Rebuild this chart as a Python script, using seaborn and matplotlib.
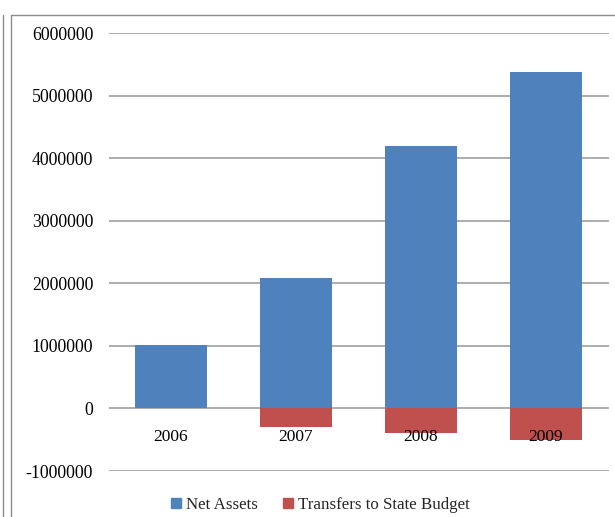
import matplotlib
matplotlib.use('Agg')
import matplotlib.pyplot as plt
import seaborn as sns
import pandas as pd
from matplotlib.lines import Line2D

# data
years = ['2006', '2007', '2008', '2009']
net_assets = [1010000, 2080000, 4190000, 5370000]
transfers = [0, -300000, -395000, -500000]
series_names = ['Net Assets', 'Transfers to State Budget']
colors = ['#4F81BD', '#C0504D']
yticks = [-1000000, 0, 1000000, 2000000, 3000000, 4000000, 5000000, 6000000]

df = pd.DataFrame({
    'Year': years * 2,
    'Value': net_assets + transfers,
    'Series': [series_names[0]] * 4 + [series_names[1]] * 4,
})

sns.set_theme(style='white')
plt.rcParams['font.family'] = ['Liberation Serif', 'DejaVu Serif']
plt.rcParams['axes.axisbelow'] = False

W, H = 615, 517
fig = plt.figure(figsize=(W / 100, H / 100), dpi=100)
ax = fig.add_axes([108.5 / W, (H - 471) / H, 500 / W, 438 / H])

for t in yticks:
    ax.axhline(t, color='#a6a6a6', lw=1.3, zorder=0)

sns.barplot(data=df, x='Year', y='Value', hue='Series', palette=colors,
            dodge=False, width=0.576, saturation=1, legend=False, ax=ax,
            zorder=1, linewidth=0)

ax.set_ylim(-1000000, 6000000)
ax.set_xlim(-0.5, 3.5)
ax.set_yticks(yticks)
ax.set_yticklabels([str(v) for v in yticks])
ax.set_xlabel('')
ax.set_ylabel('')
for s in ['top', 'right', 'left']:
    ax.spines[s].set_visible(False)
ax.spines['bottom'].set_position(('data', 0))
ax.spines['bottom'].set_visible(False)
ax.tick_params(axis='y', length=0, pad=11, labelsize=12.8, colors='black')
ax.tick_params(axis='x', length=0, pad=15, labelsize=12.5, colors='black')
for lbl in ax.get_xticklabels():
    lbl.set_zorder(5)

handles = [plt.Rectangle((0, 0), 1, 1, color=c) for c in colors]
fig.legend(handles, series_names, loc='center', bbox_to_anchor=(0.521, 12 / H),
           ncol=2, frameon=False, fontsize=12.2, handlelength=0.55, handleheight=0.55,
           handletextpad=0.3, columnspacing=1.5, borderpad=0)

# frame lines of the surrounding chart area
fc = '#8c8c8c'
top = 1 - 15 / H
fig.add_artist(Line2D([3 / W, 3 / W], [0, top], color=fc, lw=1, transform=fig.transFigure))
fig.add_artist(Line2D([11 / W, 11 / W], [0, top], color=fc, lw=1, transform=fig.transFigure))
fig.add_artist(Line2D([11 / W, 1], [top, top], color=fc, lw=1, transform=fig.transFigure))

fig.savefig('out.png', dpi=100)
